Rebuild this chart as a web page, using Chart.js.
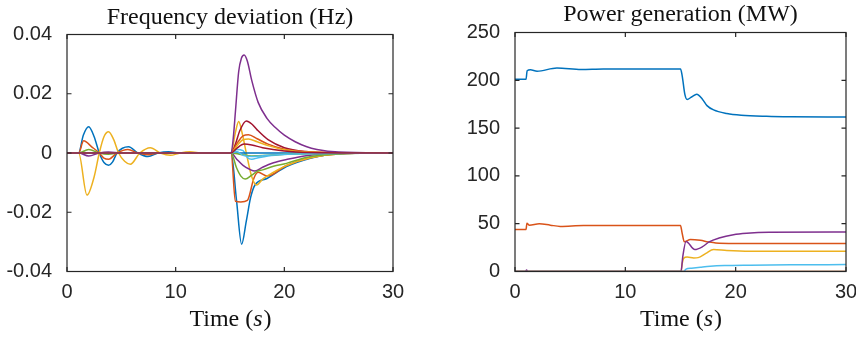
<!DOCTYPE html>
<html><head><meta charset="utf-8">
<script src="https://cdn.jsdelivr.net/npm/chart.js@4.4.1/dist/chart.umd.min.js"></script>
<style>
html,body{margin:0;padding:0;background:#fff;overflow:hidden;width:856px;height:337px;position:relative;}
#c1{position:absolute;left:0;top:0;}
#c2{position:absolute;left:428px;top:0;}
</style></head><body>
<canvas id="c1" width="428" height="337" style="width:428px;height:337px"></canvas>
<canvas id="c2" width="440" height="337" style="width:440px;height:337px"></canvas>
<script>
// ---------- Data: Frequency deviation (Hz) ----------
const freqT1 = [0,1.07,1.5,2.0,2.5,2.97,3.4,3.83,4.2,4.6,5.1,5.67,6.5,7.45,8.4,9.35,10.5,12,15.1,15.6,16.07,16.5,16.9,17.3,18.4,19.2,20.2,22.4,24.1,27,30];
const freqV1 = [0,0,0.006,0.0089,0.0055,0,-0.0032,-0.0041,-0.003,0,0.0016,0.0021,0,-0.0012,0,0.0004,0,0,0,-0.016,-0.0308,-0.023,-0.015,-0.0108,-0.0086,-0.0068,-0.0046,-0.0018,-0.0005,0,0];
const freqT2 = [0,1.07,1.53,2.3,2.97,3.4,3.83,4.6,5.6,6.5,7.5,8.5,10,15.1,15.5,16.0,16.6,17.2,17.6,18.4,20.2,22.4,25,30];
const freqV2 = [0,0,0.0041,0.002,0,-0.0017,-0.0021,0,0.0012,0,-0.0006,0,0,0,-0.0163,-0.0165,-0.016,-0.0085,-0.0065,-0.0078,-0.0042,-0.0016,-0.0003,0];
const freqT3 = [0,1.07,1.84,2.5,2.97,3.4,3.83,4.3,4.75,5.3,5.83,6.7,7.67,8.6,9.5,10.4,11.3,12.5,15.1,15.5,15.8,16.1,16.5,17.0,17.45,18.0,18.4,20.2,22.4,25,30];
const freqV3 = [0,0,-0.0142,-0.008,0,0.0055,0.0072,0.0045,0,-0.0028,-0.0038,0,0.0018,0,-0.0008,0,0.0004,0,0,0.007,0.0106,0.007,0,-0.008,-0.0108,-0.0088,-0.0078,-0.0042,-0.0016,-0.0003,0];
const freqT4 = [0,1.07,2.0,2.97,3.8,5,15.1,15.6,16.2,16.8,17.3,18,19,20.2,22,25,30];
const freqV4 = [0,0,-0.001,0,0.0003,0,0,-0.002,-0.0042,-0.0055,-0.0061,-0.0048,-0.0033,-0.0022,-0.0009,-0.0002,0];
const freqT5 = [0,1.07,2.0,2.97,3.8,5,15.1,15.6,16.0,16.4,17.0,17.5,18,19,20.2,22,25,30];
const freqV5 = [0,0,0.0012,0,-0.0004,0,0,-0.005,-0.0078,-0.0088,-0.0075,-0.0062,-0.0057,-0.0045,-0.0035,-0.0015,-0.0003,0];
const freqT6 = [0,15.1,15.6,16.2,16.6,17.0,17.6,18.5,20,22,30];
const freqV6 = [0,0,0.0012,0.0008,-0.0015,-0.0021,-0.0016,-0.001,-0.0005,-0.0002,0];
const freqT7 = [0,15.1,15.5,15.9,16.5,17.0,17.5,18.5,20,22,25,30];
const freqV7 = [0,0,0.003,0.0075,0.0108,0.0098,0.0078,0.0045,0.0018,0.0005,0.0001,0];
const freqT8 = [0,30];
const freqV8 = [0,0];
const freqT9 = [0,15.1,15.6,16.2,16.7,17.5,18.5,20,22,25,30];
const freqV9 = [0,0,0.003,0.0058,0.0062,0.0048,0.003,0.0013,0.0004,0.0001,0];
const freqT10 = [0,15.1,15.6,16.2,16.7,17.5,18.5,20,22,25,30];
const freqV10 = [0,0,0.0022,0.0045,0.0047,0.0038,0.0025,0.0011,0.0003,0.0001,0];
const freqT11 = [0,15.1,15.3,15.5,15.8,16.05,16.3,16.6,17.0,17.6,18.4,19.2,20,21,22,23,25,30];
const freqV11 = [0,0,0.005,0.014,0.0275,0.032,0.0331,0.031,0.0245,0.017,0.0117,0.0085,0.006,0.0038,0.0022,0.0012,0.0003,0];
const freqT12 = [0,15.1,16,17,18.5,20,30];
const freqV12 = [0,0,-0.0005,-0.001,-0.0008,-0.0004,0];
const freqT13 = [0,15.1,15.6,16.2,17,18,20,30];
const freqV13 = [0,0,0.0005,-0.0008,-0.0012,-0.0009,-0.0004,0];
const freqT14 = [0,15.1,15.6,16.3,17,18,20,22,30];
const freqV14 = [0,0,0.0015,0.003,0.0027,0.0018,0.0007,0.0002,0];

// ---------- Data: Power generation (MW) ----------
const powT1 = [0,1.0,1.1,1.4,2.0,3.8,6,8,15.0,15.15,15.4,15.6,16.0,16.47,17.0,17.4,18,19.2,20.5,22.8,25,30];
const powV1 = [201,201,210,211,209.5,212.8,211.2,211.8,211.8,205,185,180,182.5,185.4,180,173.5,169,165.3,163.5,162.3,161.8,161.5];
const powT2 = [0,1.0,1.08,1.3,2.2,3.2,4.1,6.2,8,10,15.0,15.15,15.35,15.9,16.8,17.5,18.2,20,30];
const powV2 = [44,44,50.5,48.5,50,48.5,47.2,48.2,48,48,48,40,31,33.5,32.6,31,29.8,29.3,29.2];
const powT3 = [0,15.05,15.15,15.3,15.6,16.2,16.6,17.3,18,19.2,21.3,30];
const powV3 = [0,0,8,14,15.2,14.2,14.5,19,23,22,21.2,21.1];
const powT4 = [0,0.95,1.05,1.15,15.05,15.2,15.5,16.3,17.0,17.6,18.5,19.8,21,23,30];
const powV4 = [0,0,1.5,0,0,15,31.5,23,26,31,35,38.5,40,41,41.2];
const powT5 = [0,30];
const powV5 = [0,0];
const powT6 = [0,15.3,15.5,16,16.8,17.7,19,21.3,25,30];
const powV6 = [0,0,2.5,3.5,4.5,5.5,6.2,6.6,7,7.2];
const powT7 = [0,30];
const powV7 = [0,0];

// ---------- Ticks / labels ----------
const timeTicks = [0,10,20,30];
const timeTickLabels = ['0','10','20','30'];
const freqTicks = [-0.04,-0.02,0,0.02,0.04];
const freqTickLabels = ['-0.04','-0.02','0','0.02','0.04'];
const powTicks = [0,50,100,150,200,250];
const powTickLabels = ['0','50','100','150','200','250'];

// ---------- Styles ----------
const palette = ['#0072BD','#D95319','#EDB120','#7E2F8E','#77AC30','#4DBEEE','#A2142F'];
const AXC = '#262626';

const freqSeries = [
  [freqT1,freqV1],[freqT2,freqV2],[freqT3,freqV3],[freqT4,freqV4],[freqT5,freqV5],
  [freqT6,freqV6],[freqT7,freqV7],[freqT8,freqV8],[freqT9,freqV9],[freqT10,freqV10],
  [freqT11,freqV11],[freqT12,freqV12],[freqT13,freqV13],[freqT14,freqV14]
];
const powSeries = [
  [powT1,powV1],[powT2,powV2],[powT3,powV3],[powT4,powV4],[powT5,powV5],[powT6,powV6],[powT7,powV7]
];

function makeDatasets(series){
  const n = series.length;
  return series.map((s,i)=>({
    data: s[0].map((t,j)=>({x:t,y:s[1][j]})),
    borderColor: palette[i % palette.length],
    borderWidth: 1.5,
    pointRadius: 0,
    fill: false,
    cubicInterpolationMode: 'monotone',
    order: n - i
  }));
}

function framePlugin(title, titleBaseline){
  return {
    id: 'frame',
    afterDraw(chart){
      const ctx = chart.ctx;
      const a = chart.chartArea;
      const xs = chart.scales.x, ys = chart.scales.y;
      ctx.save();
      ctx.strokeStyle = AXC;
      ctx.lineWidth = 1.2;
      ctx.strokeRect(a.left, a.top, a.right - a.left, a.bottom - a.top);
      const tl = 4.5;
      ctx.beginPath();
      xs.ticks.forEach(t=>{
        const p = xs.getPixelForValue(t.value);
        ctx.moveTo(p, a.bottom); ctx.lineTo(p, a.bottom - tl);
        ctx.moveTo(p, a.top); ctx.lineTo(p, a.top + tl);
      });
      ys.ticks.forEach(t=>{
        const p = ys.getPixelForValue(t.value);
        ctx.moveTo(a.left, p); ctx.lineTo(a.left + tl, p);
        ctx.moveTo(a.right, p); ctx.lineTo(a.right - tl, p);
      });
      ctx.stroke();
      // title
      const cx = (a.left + a.right) / 2;
      ctx.fillStyle = '#111';
      ctx.textBaseline = 'alphabetic';
      ctx.textAlign = 'center';
      ctx.font = '24px "Liberation Serif"';
      ctx.fillText(title, cx, titleBaseline);
      // x-axis label: Time (s) with italic s
      const p1 = 'Time (', p2 = 's', p3 = ')';
      const fN = '24px "Liberation Serif"', fI = 'italic 24px "Liberation Serif"';
      ctx.font = fN; const w1 = ctx.measureText(p1).width, w3 = ctx.measureText(p3).width;
      ctx.font = fI; const w2 = ctx.measureText(p2).width;
      let x0 = cx - (w1 + w2 + w3) / 2;
      ctx.textAlign = 'left';
      const by = 326;
      ctx.font = fN; ctx.fillText(p1, x0, by);
      ctx.font = fI; ctx.fillText(p2, x0 + w1, by);
      ctx.font = fN; ctx.fillText(p3, x0 + w1 + w2 + 1, by);
      ctx.restore();
    }
  };
}

function makeChart(canvasId, series, yMin, yMax, yTicks, yLabels, yWidth, padRight, padTop, title, titleBaseline){
  return new Chart(document.getElementById(canvasId), {
    type: 'line',
    data: { datasets: makeDatasets(series) },
    options: {
      responsive: false,
      animation: false,
      devicePixelRatio: 1,
      layout: { padding: { left: 0, right: padRight, top: padTop, bottom: 0 } },
      plugins: { legend: { display: false }, title: { display: false }, tooltip: { enabled: false } },
      scales: {
        x: {
          type: 'linear', min: 0, max: 30,
          afterBuildTicks: s => { s.ticks = timeTicks.map(v => ({ value: v })); },
          ticks: { callback: (v, i) => timeTickLabels[i], font: { family: 'Liberation Sans', size: 20 }, color: AXC, padding: 9, maxRotation: 0, autoSkip: false },
          grid: { display: false, drawTicks: false },
          border: { display: false },
          afterFit: s => { s.height = 337 - 271.5; }
        },
        y: {
          type: 'linear', min: yMin, max: yMax,
          afterBuildTicks: s => { s.ticks = yTicks.map(v => ({ value: v })); },
          ticks: { callback: (v, i) => yLabels[i], font: { family: 'Liberation Sans', size: 20 }, color: AXC, padding: 15, autoSkip: false },
          grid: { display: false, drawTicks: false },
          border: { display: false },
          afterFit: s => { s.width = yWidth; }
        }
      }
    },
    plugins: [framePlugin(title, titleBaseline)]
  });
}

makeChart('c1', freqSeries, -0.04, 0.04, freqTicks, freqTickLabels, 67, 35, 34.5, 'Frequency deviation (Hz)', 23.5);
makeChart('c2', powSeries, 0, 250, powTicks, powTickLabels, 87, 22, 32.5, 'Power generation (MW)', 21);
</script>
</body></html>
